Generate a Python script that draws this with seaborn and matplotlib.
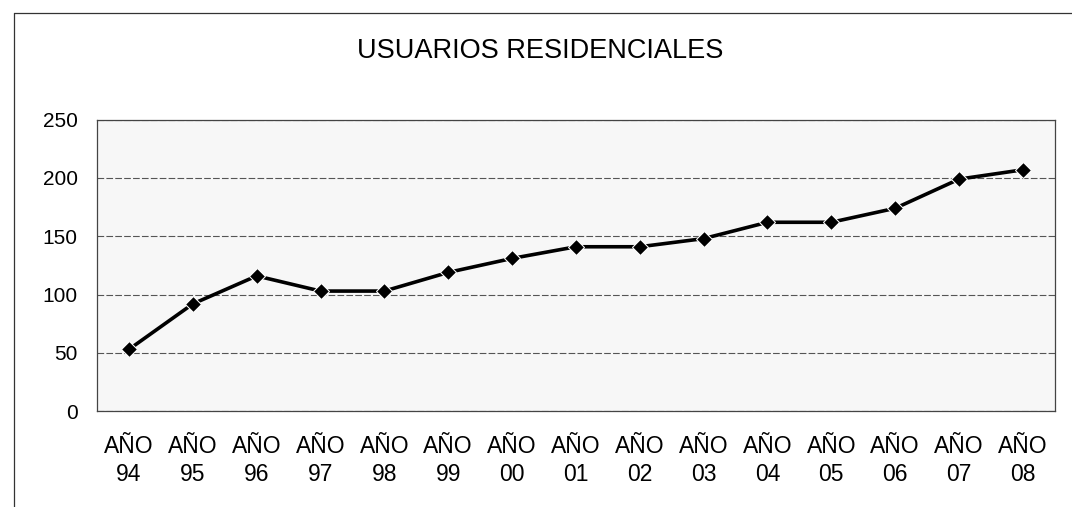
import numpy as np
import pandas as pd
import matplotlib.pyplot as plt
from matplotlib.lines import Line2D
import seaborn as sns

# data
years = ["94", "95", "96", "97", "98", "99", "00", "01",
         "02", "03", "04", "05", "06", "07", "08"]
usuarios = [53, 92, 116, 103, 103, 119, 131, 141,
            141, 148, 162, 162, 174, 199, 207]
title = "USUARIOS RESIDENCIALES"

sns.set_theme(style="white")
plt.rcParams['font.family'] = ['Liberation Sans', 'DejaVu Sans']
plt.rcParams['text.color'] = 'black'
plt.rcParams['xtick.color'] = 'black'
plt.rcParams['ytick.color'] = 'black'

df = pd.DataFrame({"pos": np.arange(len(years)), "Usuarios": usuarios})
labels = ["AÑO\n" + y for y in years]

fig = plt.figure(figsize=(10.72, 5.07), dpi=100)
ax = fig.add_axes([0.0905, 0.189, 0.8935, 0.575])
ax.set_facecolor("#f7f7f7")

sns.lineplot(data=df, x="pos", y="Usuarios", ax=ax, color="black",
             linewidth=2.6, marker="D", markersize=8.5, sort=False)

ax.set_xlim(-0.5, len(years) - 0.5)
ax.set_ylim(0, 250)
ax.set_yticks(np.arange(0, 251, 50))
ax.set_xticks(df["pos"])
ax.set_xticklabels(labels, fontsize=16.5, linespacing=1.3)
ax.tick_params(axis="y", labelsize=15, length=0, pad=14)
ax.tick_params(axis="x", length=0, pad=17)
ax.set_xlabel("")
ax.set_ylabel("")

ax.grid(axis="y", color="#555555", linewidth=0.8, linestyle=(0, (6, 2)))
ax.set_axisbelow(True)
for s in ax.spines.values():
    s.set_color("#444444")
    s.set_linewidth(0.9)
    s.set_linestyle((0, (3, 1)))
ax.spines["bottom"].set_linestyle("-")

fig.text(0.504, 0.899, title, ha="center", va="center", fontsize=19.5)

# frame of the scanned page
fig.add_artist(Line2D([0.013, 0.013], [0.0, 0.975], color="#333333", lw=0.9))
fig.add_artist(Line2D([0.013, 1.0], [0.975, 0.975], color="#333333", lw=0.9))

fig.savefig("out.png", dpi=100)
